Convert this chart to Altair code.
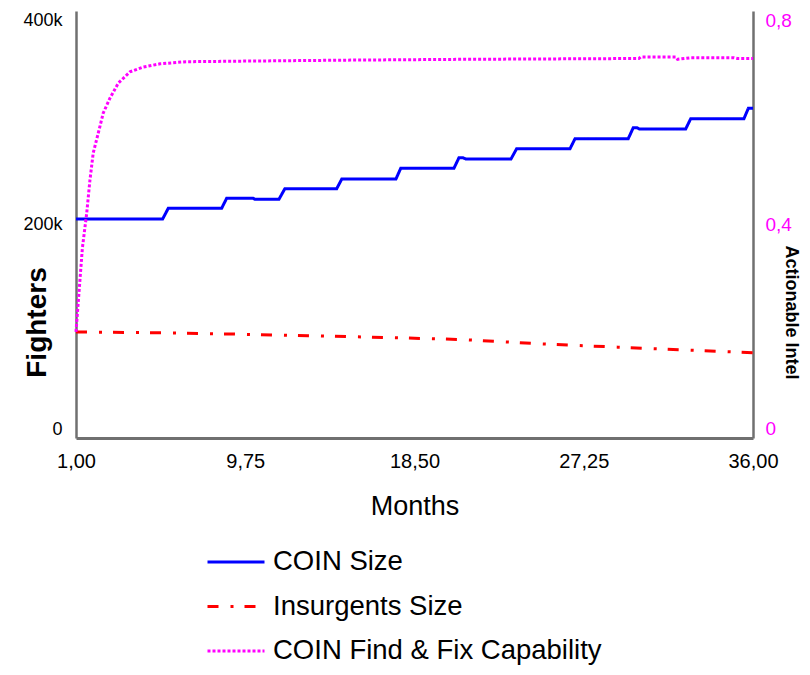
import altair as alt
import pandas as pd

# ---------------- data ----------------
SERIES = ["COIN Size", "Insurgents Size", "COIN Find & Fix Capability"]
COLORS = ["#0000ff", "#ff0000", "#ff00ff"]
DASHES = [[1, 0], [11, 12, 3, 11], [3, 2]]

# COIN Size (fighters) - step function
coin_t = [1, 5.48, 5.77, 8.53, 8.79, 10.15, 10.25, 11.49, 11.8, 14.48, 14.74,
          17.54, 17.79, 20.54, 20.8, 21.0, 21.15, 23.49, 23.78, 26.54, 26.8,
          29.55, 29.81, 30.0, 30.12, 32.52, 32.78, 35.53, 35.76, 36]
coin_v = [205200, 205200, 215200, 215200, 224600, 224600, 223600, 223600, 233600, 233600, 242600,
          242600, 252700, 252700, 262600, 262600, 261400, 261400, 271000, 271000, 280400,
          280400, 290700, 290700, 289500, 289500, 299100, 299100, 308900, 308900]

# Insurgents Size (fighters)
ins_t = [1, 5, 9, 13, 17, 21, 25, 29, 33, 36]
ins_v = [99300, 98600, 97400, 95800, 94200, 92200, 88200, 85100, 82100, 79900]

# COIN Find & Fix Capability (actionable intel, right axis)
ff_t = [1, 1.33, 1.55, 1.72, 1.89, 2.15, 2.41, 2.76, 3.19, 3.79, 4.48, 5.34,
        6.69, 9.37, 15.2, 21.1, 30.1, 30.2, 32.0, 32.1, 32.8, 35.0, 35.2, 36]
ff_v = [0.199, 0.356, 0.42, 0.483, 0.534, 0.571, 0.609, 0.637, 0.665, 0.686, 0.695, 0.701,
        0.705, 0.706, 0.708, 0.7095, 0.711, 0.714, 0.714, 0.7095, 0.7125, 0.7125, 0.711, 0.711]

x_ticks = [1, 9.75, 18.5, 27.25, 36]
left_ticks = [0, 200000, 400000]
right_ticks = [0, 0.4, 0.8]

# ---------------- tables ----------------
left_df = pd.concat([
    pd.DataFrame({"t": coin_t, "v": coin_v, "series": SERIES[0], "o": range(len(coin_t))}),
    pd.DataFrame({"t": ins_t, "v": ins_v, "series": SERIES[1], "o": range(len(ins_t))}),
], ignore_index=True)
right_df = pd.DataFrame({"t": ff_t, "v": ff_v, "series": SERIES[2], "o": range(len(ff_t))})

FONT = "Liberation Sans, Arial, sans-serif"
AXIS_GRAY = "#707070"

legend = alt.Legend(
    title=None, orient="none", legendX=130, legendY=521,
    symbolType="stroke", symbolSize=3249, symbolStrokeWidth=3,
    labelFont=FONT, labelFontSize=27.5, labelColor="#000000",
    labelOffset=7, rowPadding=0.5, labelLimit=600,
)

color = alt.Color("series:N", scale=alt.Scale(domain=SERIES, range=COLORS), legend=legend)
dash = alt.StrokeDash("series:N", scale=alt.Scale(domain=SERIES, range=DASHES), legend=legend)

x_enc = alt.X(
    "t:Q",
    scale=alt.Scale(domain=[1, 36], nice=False, zero=False),
    axis=alt.Axis(
        values=x_ticks, labelExpr="replace(format(datum.value, '.2f'), '.', ',')",
        title="Months", grid=False, ticks=False, labelFlush=False, labelOverlap=False,
        labelFont=FONT, labelFontSize=20, labelColor="#000000", labelPadding=13,
        domainColor=AXIS_GRAY, domainWidth=3,
        titleFont=FONT, titleFontSize=27, titleFontWeight="normal",
        titleColor="#000000", titleX=338.5, titleY=68, titleBaseline="middle", titleAlign="center",
    ),
)

left = alt.Chart(left_df).mark_line(strokeWidth=3).encode(
    x=x_enc,
    y=alt.Y(
        "v:Q",
        scale=alt.Scale(domain=[0, 400000], nice=False),
        axis=alt.Axis(
            orient="left", values=left_ticks,
            labelExpr="datum.value == 0 ? '0' : format(datum.value / 1000, 'd') + 'k'",
            grid=False, ticks=False, labelFlush=True, labelOverlap=False,
            labelFont=FONT, labelFontSize=18, labelColor="#000000", labelPadding=14,
            domainColor=AXIS_GRAY, domainWidth=2.5,
            title="Fighters", titleFont=FONT, titleFontSize=28, titleFontWeight="bold",
            titleColor="#000000", titleAngle=270, titleX=-39, titleY=311,
            titleAlign="center", titleBaseline="middle",
        ),
    ),
    color=color,
    strokeDash=dash,
    order="o:Q",
)

right = alt.Chart(right_df).mark_line(strokeWidth=3).encode(
    x=x_enc,
    y=alt.Y(
        "v:Q",
        scale=alt.Scale(domain=[0, 0.8], nice=False),
        axis=alt.Axis(
            orient="right", values=right_ticks,
            labelExpr="datum.value == 0 ? '0' : replace(format(datum.value, '.1f'), '.', ',')",
            grid=False, ticks=False, labelFlush=True, labelOverlap=False,
            labelFont=FONT, labelFontSize=19, labelColor="#ff00ff", labelPadding=12,
            domainColor=AXIS_GRAY, domainWidth=2.5,
            title="Actionable Intel", titleFont=FONT, titleFontSize=18, titleFontWeight="bold",
            titleColor="#000000", titleAngle=90, titleX=37, titleY=301,
            titleAlign="center", titleBaseline="middle",
        ),
    ),
    color=color,
    strokeDash=dash,
    order="o:Q",
)

chart = (
    alt.layer(left, right)
    .resolve_scale(y="independent")
    .properties(
        width=677, height=427,
        autosize=alt.AutoSizeParams(type="none"),
        padding={"left": 68, "top": 3, "right": 49, "bottom": 229},
        background="#ffffff",
    )
    .configure_view(stroke=None)
)

chart.save("out.html", embed_options={"renderer": "svg", "actions": False})
